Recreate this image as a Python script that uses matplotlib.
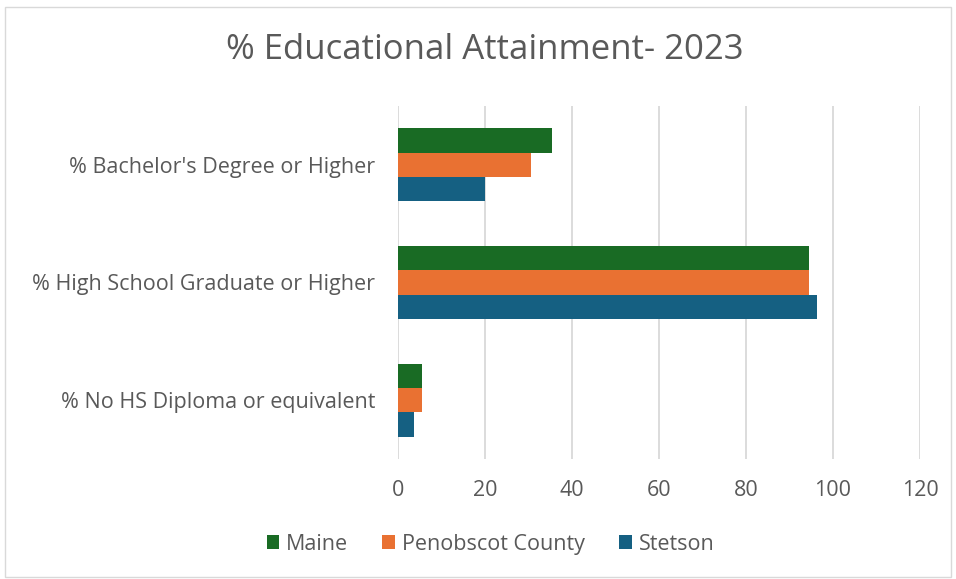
import matplotlib.pyplot as plt
import numpy as np
from matplotlib.patches import Rectangle

plt.rcParams['font.family'] = ['Open Sans', 'DejaVu Sans']

categories = ["% Bachelor's Degree or Higher",
              "% High School Graduate or Higher",
              "% No HS Diploma or equivalent"]
series = ["Maine", "Penobscot County", "Stetson"]
maine = [35.5, 94.4, 5.6]
penobscot = [30.6, 94.4, 5.6]
stetson = [20.0, 96.3, 3.7]
colors = ["#196B24", "#E97132", "#156082"]

TEXT = "#595959"

fig = plt.figure(figsize=(9.56, 5.79), dpi=100)
ax = fig.add_axes([0.4163, 0.2073, 0.546, 0.6096])

# outer chart border
fig.patches.append(Rectangle((0.005, 0.003), 0.99, 0.985, transform=fig.transFigure,
                             fill=False, edgecolor="#D9D9D9", linewidth=1))

y = np.arange(len(categories))
h = 0.207
for i, (vals, name) in enumerate(zip([maine, penobscot, stetson], series)):
    ax.barh(y + (i - 1) * h, vals, height=h, color=colors[i], label=name, zorder=3)

ax.set_xlim(0, 120)
ax.set_xticks(range(0, 121, 20))
ax.set_ylim(-0.5, 2.5)
ax.invert_yaxis()
ax.set_yticks(y)
ax.set_yticklabels(categories)

ax.grid(axis='x', color="#D9D9D9", linewidth=1.3, zorder=0)
for s in ax.spines.values():
    s.set_visible(False)
ax.tick_params(length=0, labelsize=15.5, colors=TEXT)
ax.tick_params(axis='x', pad=15)
ax.tick_params(axis='y', pad=16.5)

fig.text(0.507, 0.913, "% Educational Attainment- 2023", ha='center', va='center',
         fontsize=25, color=TEXT)

leg = fig.legend(loc='center', bbox_to_anchor=(0.513, 0.06), ncol=3, frameon=False,
                 fontsize=15.5, handlelength=0.6, handleheight=0.6, handletextpad=0.3,
                 columnspacing=1.6)
for t in leg.get_texts():
    t.set_color(TEXT)

fig.savefig("out.png", dpi=100)
